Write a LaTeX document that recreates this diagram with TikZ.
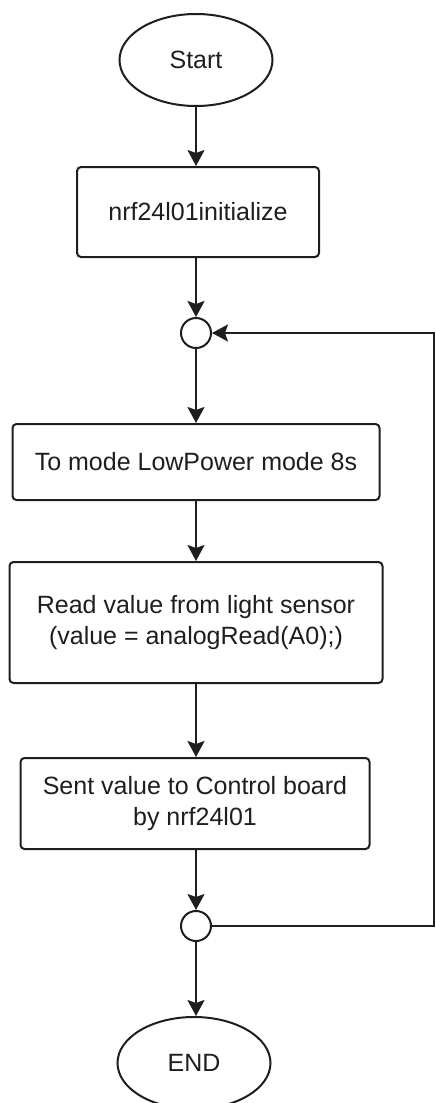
\documentclass[tikz,border=0pt]{standalone}
\usepackage{fontspec}
\setmainfont{Liberation Sans}
\usetikzlibrary{shapes.geometric,arrows.meta}
\definecolor{ink}{HTML}{1E1E1E}
\begin{document}
\begin{tikzpicture}[x=1pt,y=-1pt,
  every node/.style={font=\fontsize{25}{31}\selectfont, text=ink, inner sep=0pt},
  proc/.style={draw=ink, line width=2pt, rectangle, rounded corners=4pt, align=center},
  term/.style={draw=ink, line width=2pt, ellipse, minimum width=153pt, minimum height=92pt},
  junc/.style={draw=ink, line width=2pt, circle, minimum size=30pt},
  arr/.style={draw=ink, line width=2pt, -{Stealth[length=16pt,width=17pt,inset=3pt]}}]
\useasboundingbox (0,0) rectangle (436,1103);
\node[term] (start) at (196,60) {Start};
\node[proc, minimum width=242pt, minimum height=90pt] (init) at (198,212) {nrf24l01initialize};
\node[junc] (c1) at (196,333) {};
\node[proc, minimum width=367pt, minimum height=76pt] (low) at (196,462) {To mode LowPower mode 8s};
\node[proc, minimum width=373pt, minimum height=121pt] (read) at (196,622.5) {Read value from light sensor\\(value = analogRead(A0);)};
\node[proc, minimum width=349pt, minimum height=91pt] (sent) at (195,803.5) {Sent value to Control board\\by nrf24l01};
\node[junc] (c2) at (196,926) {};
\node[term] (end) at (194,1063) {END};
\coordinate (rt) at (434,333);
\draw[arr] (start) -- (start |- init.north);
\draw[arr] (init.south -| c1) -- (c1);
\draw[arr] (c1) -- (low);
\draw[arr] (low) -- (read);
\draw[arr] (read.south -| c2) -- (sent.north -| c2);
\draw[arr] (sent.south -| c2) -- (c2);
\draw[arr] (c2) -- (c2 |- end.north);
\draw[arr] (c2.east) -| (rt) -- (c1.east);
\end{tikzpicture}
\end{document}
